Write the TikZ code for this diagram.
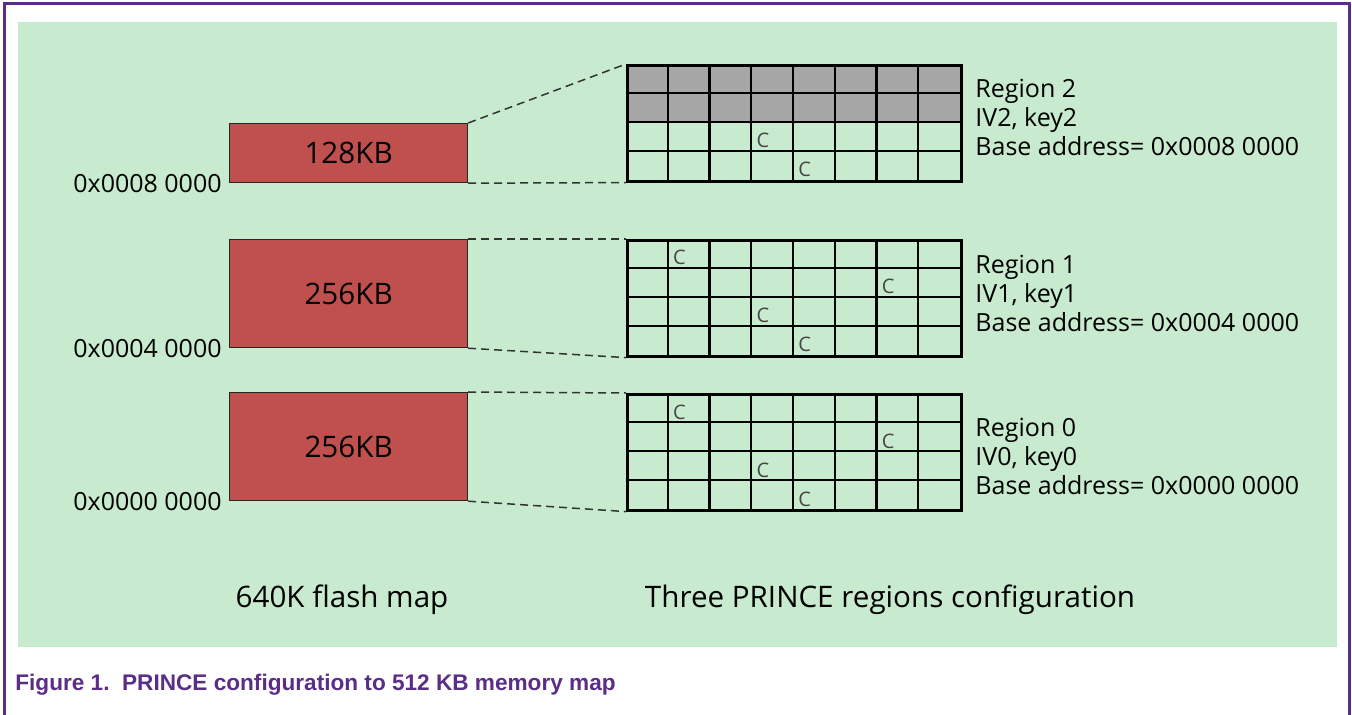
\documentclass[tikz,border=0pt]{standalone}
\usepackage{fontspec}
\setmainfont{Open Sans}
\newfontfamily\capfont{Liberation Sans}
\usetikzlibrary{positioning, calc}
\definecolor{bggreen}{RGB}{200,235,207}
\definecolor{flashred}{RGB}{192,80,77}
\definecolor{lockgray}{RGB}{166,166,166}
\definecolor{nxppurple}{RGB}{90,45,135}
\definecolor{cgray}{RGB}{70,70,70}

\begin{document}
\begin{tikzpicture}[x=0.5pt, y=-0.5pt,
    flash/.style={rectangle, draw=black!85, line width=0.6pt, fill=flashred, minimum width=119pt, anchor=north west, inner sep=0pt, font=\fontsize{14.8}{17}\selectfont},
    cellgrid/.style={rectangle, draw=black, line width=1.3pt, minimum width=167pt, minimum height=58pt, anchor=north west, inner sep=0pt},
    cellline/.style={draw=black, line width=1.1pt},
    addr/.style={inner sep=0pt, font=\fontsize{12.5}{14}\selectfont},
    info/.style={anchor=west, align=left, inner sep=0pt, font=\fontsize{12.5}{14.5}\selectfont},
    ctag/.style={anchor=base west, inner sep=0pt, text=cgray, font=\fontsize{10}{11}\selectfont},
    zoomline/.style={dashed, dash pattern=on 4pt off 2.5pt, draw=black!80, line width=0.75pt},
    title/.style={inner sep=0pt, font=\fontsize{14.8}{17}\selectfont}
]
\useasboundingbox (0,0) rectangle (1352,715);

% Frame and background
\draw[nxppurple, line width=1.5pt] (4,715) -- (4,4) -- (1349,4) -- (1349,715);
\fill[bggreen] (18,22) rectangle (1337,647);

% Flash map
\node[flash, minimum height=29.5pt] (r2) at (229,123) {128KB};
\node[flash, minimum height=54pt] (r1) at (229,239) {256KB};
\node[flash, minimum height=54pt] (r0) at (229,392) {256KB};

% Addresses
\node[addr, left=3.5pt of r2.south west] (a2) {0x0008 0000};
\node[addr, left=3.5pt of r1.south west] (a1) {0x0004 0000};
\node[addr, left=3.5pt of r0.south west] (a0) {0x0000 0000};

% Locked rows of region 2
\fill[lockgray] (626,64) rectangle (960,122);

% PRINCE regions
\node[cellgrid] (g2) at (626,64) {};
\node[cellgrid] (g1) at (626,239) {};
\node[cellgrid] (g0) at (626,393) {};

\foreach \g in {g2,g1,g0} {
  \foreach \i in {1,...,7}
    \draw[cellline] ($(\g.north west)+(\i*41.75,0)$) -- ($(\g.south west)+(\i*41.75,0)$);
  \foreach \j in {1,2,3}
    \draw[cellline] ($(\g.north west)+(0,\j*29)$) -- ($(\g.north east)+(0,\j*29)$);
}

% Cells marked C
\foreach \c/\r [count=\k] in {3/2,4/3}
  \node[ctag] (g2-c\k) at ($(g2.north west)+(\c*41.75+5,\r*29+26)$) {C};
\foreach \g in {g1,g0}
  \foreach \c/\r [count=\k] in {1/0,6/1,3/2,4/3}
    \node[ctag] (\g-c\k) at ($(\g.north west)+(\c*41.75+5,\r*29+26)$) {C};

% Region labels
\node[info] (i2) at (975,117) {Region 2\\IV2, key2\\Base address= 0x0008 0000};
\node[info] (i1) at (975,293) {Region 1\\IV1, key1\\Base address= 0x0004 0000};
\node[info] (i0) at (975,456) {Region 0\\IV0, key0\\Base address= 0x0000 0000};

% Zoom lines
\draw[zoomline] (r2.north east) -- (g2.north west);
\draw[zoomline] (r2.south east) -- (g2.south west);
\draw[zoomline] (r1.north east) -- (g1.north west);
\draw[zoomline] (r1.south east) -- (g1.south west);
\draw[zoomline] (r0.north east) -- (g0.north west);
\draw[zoomline] (r0.south east) -- (g0.south west);

% Titles
\node[title] (t1) at (342,600) {640K flash map};
\node[title] (t2) at (890,600) {Three PRINCE regions configuration};

% Caption
\node[anchor=west, inner sep=0pt, text=nxppurple, font=\capfont\bfseries\fontsize{11.3}{13}\selectfont] (cap) at (15,685) {Figure 1.\ \ PRINCE configuration to 512 KB memory map};

\end{tikzpicture}
\end{document}
